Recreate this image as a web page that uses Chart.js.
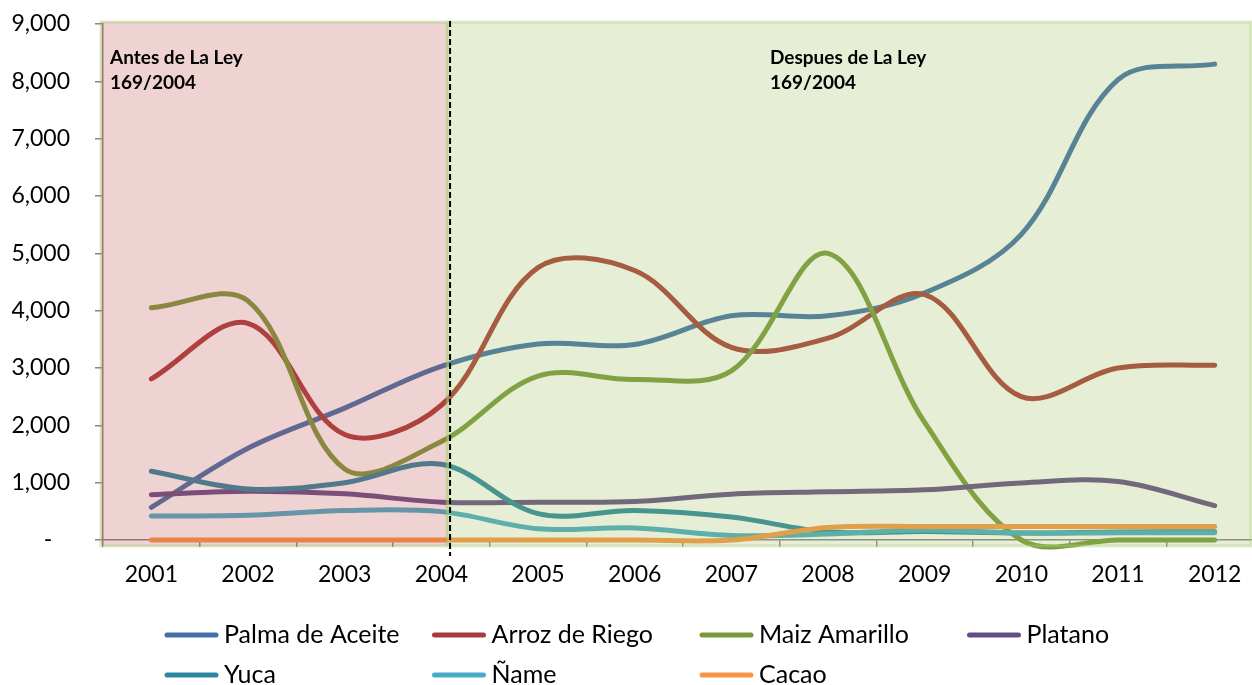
<!DOCTYPE html>
<html>
<head>
<meta charset="utf-8">
<script src="https://cdn.jsdelivr.net/npm/chart.js@4.4.1/dist/chart.umd.min.js"></script>
<style>
  html, body { margin: 0; padding: 0; background: #fff; overflow: hidden; }
  #wrap { width: 1264px; height: 685px; }
</style>
</head>
<body>
<div id="wrap"><canvas id="c" width="1264" height="685"></canvas></div>
<script>
// Categories (years)
const years = ['2001','2002','2003','2004','2005','2006','2007','2008','2009','2010','2011','2012'];

// Production per crop
const palmaDeAceite = [570, 1600, 2300, 3030, 3420, 3410, 3910, 3910, 4310, 5330, 8030, 8300];
const arrozDeRiego  = [2810, 3780, 1840, 2350, 4750, 4700, 3360, 3520, 4280, 2500, 3000, 3050];
const maizAmarillo  = [4050, 4170, 1240, 1720, 2860, 2800, 2950, 5000, 2050, 0, 0, 0];
const platano       = [790, 850, 805, 660, 660, 670, 800, 840, 875, 995, 1020, 600];
const yuca          = [1200, 890, 1000, 1320, 460, 515, 400, 140, 150, 120, 140, 145];
const nameCrop      = [420, 430, 515, 495, 195, 210, 80, 105, 175, 120, 125, 125];
const cacao         = [0, 0, 0, 0, 0, 0, 0, 220, 235, 235, 235, 235];

const seriesNames  = ['Palma de Aceite', 'Arroz de Riego', 'Maiz Amarillo', 'Platano', 'Yuca', 'Ñame', 'Cacao'];
const seriesValues = [palmaDeAceite, arrozDeRiego, maizAmarillo, platano, yuca, nameCrop, cacao];
const seriesColors = ['#4270a8', '#a83d38', '#789a3c', '#654c88', '#2d87a0', '#4aabc5', '#f79646'];

// Y axis ticks
const yMin = 0, yMax = 9000, yStep = 1000;

// Period split: the law 169/2004 (position on the year axis)
const lawYearIndex = 3.08;
const periodTexts = [['Antes de La Ley', '169/2004'], ['Despues de La Ley', '169/2004']];
const periodTextIndex = [-0.5, 6.4];

Chart.defaults.font.family = 'Lato, "Open Sans", sans-serif';

// fractional category position -> pixel
function xAt(scale, v) {
  const i = Math.floor(v);
  const p0 = scale.getPixelForValue(i);
  const p1 = scale.getPixelForValue(i + 1);
  return p0 + (v - i) * (p1 - p0);
}

// Translucent period panels drawn over the lines, plus the law marker and labels
const periodPanels = {
  id: 'periodPanels',
  afterDatasetsDraw(chart) {
    const { ctx, chartArea: ca, scales: { x, y } } = chart;
    const split = xAt(x, lawYearIndex);
    const top = y.getPixelForValue(yMax) - 2;
    const bottom = y.getPixelForValue(yMin) + 6;
    const left = ca.left - 2;
    const right = ca.right - 12;
    ctx.save();
    // before the law
    ctx.fillStyle = 'rgba(192,80,77,0.25)';
    ctx.fillRect(left, top, split - 2 - left, bottom - top);
    ctx.strokeStyle = 'rgba(155,187,89,0.35)';
    ctx.lineWidth = 3;
    ctx.strokeRect(left, top, split - 2 - left, bottom - top);
    // after the law
    ctx.fillStyle = 'rgba(155,187,89,0.25)';
    ctx.fillRect(split - 2, top, right - split + 2, bottom - top);
    ctx.strokeStyle = 'rgba(175,208,120,0.4)';
    ctx.strokeRect(split - 1, top, right - split + 1, bottom - top);
    // dashed marker
    ctx.strokeStyle = '#000';
    ctx.lineWidth = 2;
    ctx.setLineDash([6, 3]);
    ctx.beginPath();
    ctx.moveTo(split + 1, top - 1);
    ctx.lineTo(split + 1, bottom + 10);
    ctx.stroke();
    ctx.setLineDash([]);
    // period labels
    ctx.fillStyle = '#000';
    ctx.font = 'bold 19px Lato, "Open Sans", sans-serif';
    ctx.textBaseline = 'middle';
    ctx.textAlign = 'left';
    periodTexts.forEach((lines, k) => {
      const tx = k === 0 ? ca.left + 7 : xAt(x, periodTextIndex[k]);
      lines.forEach((t, j) => ctx.fillText(t, tx, top + 36 + j * 25));
    });
    ctx.restore();
  }
};

// Two-row legend in fixed columns
const gridLegend = {
  id: 'gridLegend',
  afterDraw(chart) {
    const { ctx } = chart;
    const startX = 165, colW = 267.5, rowY = 635, rowH = 40, lineLen = 53;
    ctx.save();
    ctx.font = '25px Lato, "Open Sans", sans-serif';
    ctx.textBaseline = 'middle';
    ctx.textAlign = 'left';
    chart.data.datasets.forEach((ds, i) => {
      const col = i % 4, row = Math.floor(i / 4);
      const x0 = startX + col * colW, y0 = rowY + row * rowH;
      ctx.strokeStyle = ds.borderColor;
      ctx.lineWidth = 5;
      ctx.lineCap = 'round';
      ctx.beginPath();
      ctx.moveTo(x0 + 2, y0);
      ctx.lineTo(x0 + lineLen - 2, y0);
      ctx.stroke();
      ctx.fillStyle = '#000';
      ctx.fillText(ds.label, x0 + lineLen + 6, y0);
    });
    ctx.restore();
  }
};

new Chart(document.getElementById('c'), {
  type: 'line',
  data: {
    labels: years,
    datasets: seriesNames.map((n, i) => ({
      label: n,
      data: seriesValues[i],
      borderColor: seriesColors[i],
      backgroundColor: seriesColors[i],
      borderWidth: 5,
      borderCapStyle: 'round',
      borderJoinStyle: 'round',
      pointRadius: 0,
      tension: 0.35,
      capBezierPoints: false,
      clip: 10,
      fill: false,
      order: seriesNames.length - i
    }))
  },
  options: {
    responsive: false,
    animation: false,
    layout: { padding: { top: 24, right: 1, left: 0, bottom: 0 } },
    plugins: { legend: { display: false }, tooltip: { enabled: false } },
    scales: {
      x: {
        type: 'category',
        offset: true,
        grid: { offset: true, drawOnChartArea: false, tickLength: 7, color: '#868686', lineWidth: 1.5 },
        border: { color: '#868686', width: 1.5 },
        ticks: { padding: 14, color: '#000', font: { size: 23 }, maxRotation: 0, autoSkip: false },
        afterFit(s) { s.height = 145; }
      },
      y: {
        min: yMin,
        max: yMax,
        grid: { drawOnChartArea: false, tickLength: 8, color: '#868686', lineWidth: 1.5 },
        border: { color: '#868686', width: 1.5 },
        ticks: {
          stepSize: yStep,
          padding: 25,
          color: '#000',
          font: { size: 23 },
          callback: v => v === 0 ? '-   ' : v.toLocaleString('en-US')
        },
        afterFit(s) { s.width = 103; s.paddingTop = 0; s.paddingBottom = 0; }
      }
    }
  },
  plugins: [periodPanels, gridLegend]
});
</script>
</body>
</html>
